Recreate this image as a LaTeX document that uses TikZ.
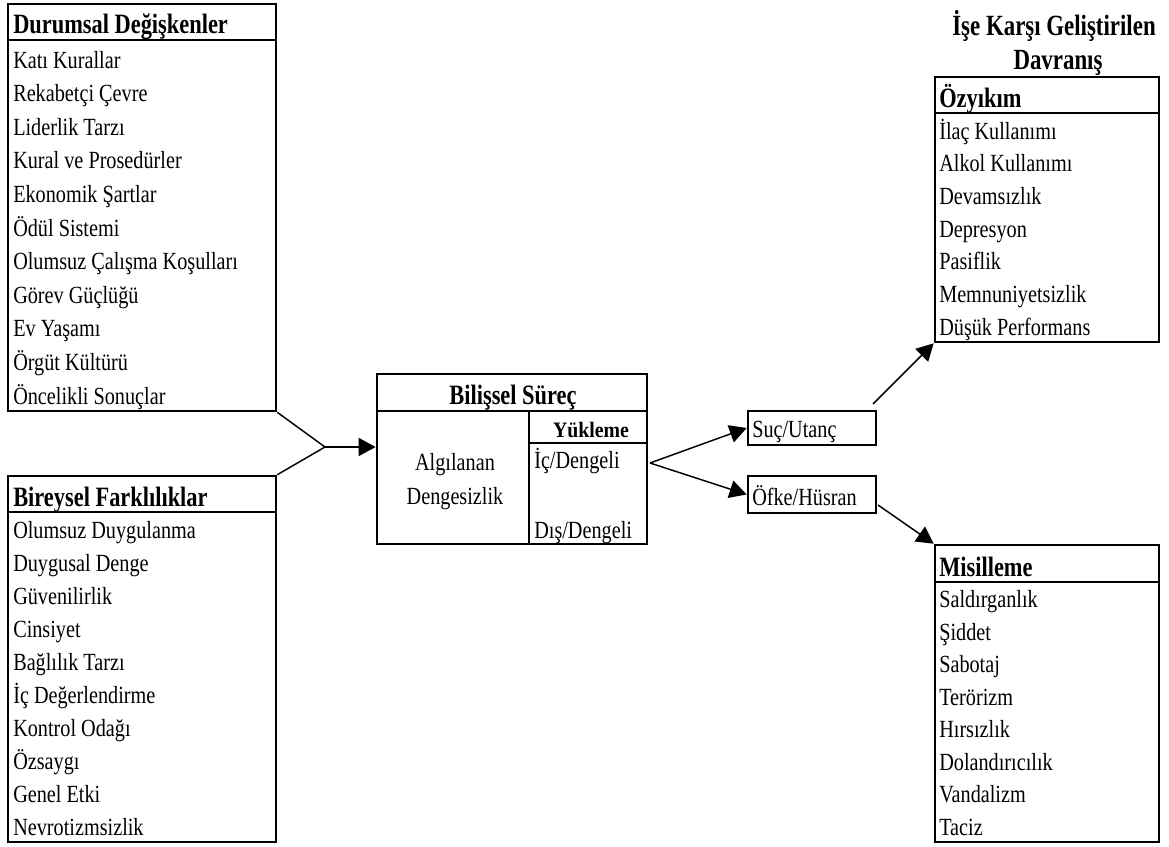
\documentclass[tikz,border=0pt]{standalone}
\usepackage{fontspec}
\setmainfont{Liberation Serif}[FakeStretch=0.82]
\newfontfamily\hdfont{Liberation Serif}[FakeStretch=0.8]
\newfontfamily\subfont{Liberation Serif}[FakeStretch=0.9]
\newfontfamily\titfont{Liberation Serif}[FakeStretch=0.78]
\usetikzlibrary{arrows.meta,fit}

\tikzset{
  frame/.style={draw=black, line width=2pt, inner sep=0pt},
  rule/.style={line width=1.8pt},
  item/.style={anchor=base west, inner sep=0pt, font=\fontsize{18.5}{20}\selectfont},
  itemc/.style={anchor=base, inner sep=0pt, font=\fontsize{18.5}{20}\selectfont},
  head/.style={anchor=base west, inner sep=0pt, font=\hdfont\bfseries\fontsize{21}{24}\selectfont},
  headc/.style={anchor=base, inner sep=0pt, font=\hdfont\bfseries\fontsize{21}{24}\selectfont},
  link/.style={line width=1.1pt},
  flow/.style={line width=1.1pt, -{Triangle[length=12.75pt, width=13.5pt]}},
}

\begin{document}
\begin{tikzpicture}[x=0.75pt, y=-0.75pt]
\useasboundingbox (0,0) rectangle (1169,846);

% ---------- Durumsal Değişkenler ----------
\node[frame, fit={(8,4) (276,411)}] (dur) {};
\draw[rule] (8,40) -- (276,40);
\node[head] (durh) at (13,33) {Durumsal Değişkenler};
\foreach \t [count=\i from 0] in {Katı Kurallar, Rekabetçi Çevre, Liderlik Tarzı,
    Kural ve Prosedürler, Ekonomik Şartlar, Ödül Sistemi, Olumsuz Çalışma Koşulları,
    Görev Güçlüğü, Ev Yaşamı, Örgüt Kültürü, Öncelikli Sonuçlar}
  \node[item] (dur\i) at (13,{68+33.6*\i}) {\t};

% ---------- Bireysel Farklılıklar ----------
\node[frame, fit={(8,476) (276,842)}] (bir) {};
\draw[rule] (8,512) -- (276,512);
\node[head] (birh) at (13,506) {Bireysel Farklılıklar};
\foreach \t [count=\i from 0] in {Olumsuz Duygulanma, Duygusal Denge, Güvenilirlik,
    Cinsiyet, Bağlılık Tarzı, İç Değerlendirme, Kontrol Odağı, Özsaygı,
    Genel Etki, Nevrotizmsizlik}
  \node[item] (bir\i) at (13,{538+33*\i}) {\t};

% ---------- Bilişsel Süreç ----------
\node[frame, fit={(377,374) (647,544)}] (bil) {};
\draw[rule] (377,411) -- (647,411);
\draw[rule] (529,411) -- (529,544);
\draw[rule] (529,443) -- (647,443);
\node[headc] (bilh) at (513,404) {Bilişsel Süreç};
\node[anchor=base, inner sep=0pt, font=\subfont\bfseries\fontsize{16.5}{20}\selectfont] (yuk) at (591,437) {Yükleme};
\node[itemc] (alg1) at (455,470) {Algılanan};
\node[itemc] (alg2) at (455,504) {Dengesizlik};
\node[item] (ic) at (534,468) {İç/Dengeli};
\node[item] (dis) at (534,538) {Dış/Dengeli};

% ---------- Duygusal tepkiler ----------
\node[frame, fit={(748,411) (876,445)}] (suc) {};
\node[item] (suct) at (752,437) {Suç/Utanç};
\node[frame, fit={(748,476) (876,513)}] (ofk) {};
\node[item] (ofkt) at (752,505) {Öfke/Hüsran};

% ---------- İşe Karşı Geliştirilen Davranış ----------
\node[anchor=base, inner sep=0pt, font=\titfont\bfseries\fontsize{22}{26}\selectfont] (tit1) at (1054,35) {İşe Karşı Geliştirilen};
\node[anchor=base, inner sep=0pt, font=\titfont\bfseries\fontsize{22}{26}\selectfont] (tit2) at (1058,69) {Davranış};

\node[frame, fit={(935,77) (1159,342)}] (ozy) {};
\draw[rule] (935,113) -- (1159,113);
\node[head] (ozyh) at (939,107) {Özyıkım};
\foreach \t [count=\i from 0] in {İlaç Kullanımı, Alkol Kullanımı, Devamsızlık,
    Depresyon, Pasiflik, Memnuniyetsizlik, Düşük Performans}
  \node[item] (ozy\i) at (939,{139+32.7*\i}) {\t};

\node[frame, fit={(935,545) (1159,842)}] (mis) {};
\draw[rule] (935,582) -- (1159,582);
\node[head] (mish) at (939,576) {Misilleme};
\foreach \t [count=\i from 0] in {Saldırganlık, Şiddet, Sabotaj, Terörizm,
    Hırsızlık, Dolandırıcılık, Vandalizm, Taciz}
  \node[item] (mis\i) at (939,{607.5+32.5*\i}) {\t};

% ---------- Connectors ----------
\coordinate (join) at (325,447);
\coordinate (fork) at (650,463);
\coordinate (sucout) at (873,404);
\coordinate (ofkout) at (878,505);

\draw[link] (dur.south east) -- (join);
\draw[link] (bir.north east) -- (join);
\draw[flow] (join) -- (join -| bil.west);
\draw[flow] (fork) -- (suc.west);
\draw[flow] (fork) -- (ofk.west);
\draw[flow] (sucout) -- (ozy.south west);
\draw[flow] (ofkout) -- (mis.north west);
\end{tikzpicture}
\end{document}
